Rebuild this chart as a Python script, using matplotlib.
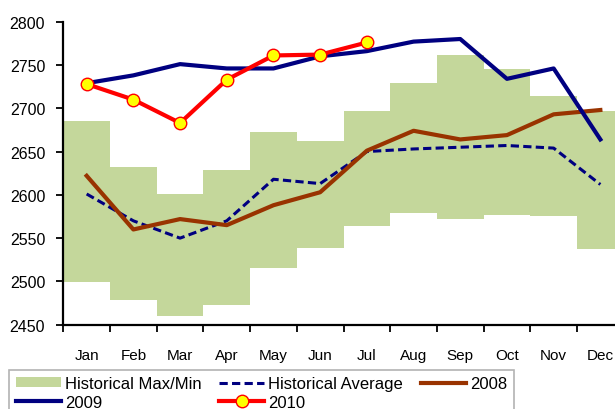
import numpy as np
import matplotlib
matplotlib.use("Agg")
import matplotlib.pyplot as plt
from matplotlib.patches import Patch
from matplotlib.lines import Line2D

# ==========================================
# DATA
# ==========================================

months = ["Jan", "Feb", "Mar", "Apr", "May", "Jun",
          "Jul", "Aug", "Sep", "Oct", "Nov", "Dec"]

hist_max = [2685, 2632, 2601, 2629, 2673, 2662,
            2697, 2729, 2761, 2745, 2714, 2697]
hist_min = [2499, 2478, 2460, 2473, 2516, 2539,
            2564, 2579, 2572, 2577, 2576, 2537]

hist_avg = [2601, 2570, 2550, 2570, 2618, 2613,
            2650, 2653, 2655, 2657, 2654, 2612]

y2008 = [2622, 2560, 2572, 2565, 2588, 2603,
         2651, 2674, 2664, 2669, 2693, 2698]

y2009 = [2729, 2738, 2751, 2746, 2746, 2760,
         2766, 2777, 2780, 2734, 2746, 2664]

y2010 = [2728, 2710, 2683, 2733, 2761, 2762, 2776]

# ==========================================
# STYLE
# ==========================================

plt.rcParams["font.family"] = ["Liberation Sans", "DejaVu Sans"]

green = "#C4D79B"
navy = "#000080"
brown = "#993300"
dash = (0, (2.7, 1.4))

x = np.arange(len(months))

fig = plt.figure(figsize=(6.15, 4.10), dpi=100)

# plot area runs past the right edge, like the original
ax = fig.add_axes([63.3 / 615, 1 - 325.7 / 410,
                   (623.7 - 63.3) / 615, (325.7 - 22.7) / 410])

# ==========================================
# HISTORICAL BAND
# ==========================================

band = np.array(hist_max) - np.array(hist_min)

ax.bar(x, band, bottom=hist_min, width=1.0,
       color=green, edgecolor="none", zorder=1)

# ==========================================
# LINES
# ==========================================

ax.plot(x, hist_avg, color=navy, linewidth=2.2,
        linestyle=dash, zorder=3)

ax.plot(x, y2008, color=brown, linewidth=3, zorder=4)

ax.plot(x, y2009, color=navy, linewidth=3, zorder=5)

ax.plot(x[:len(y2010)], y2010, color="red", linewidth=3,
        marker="o", markersize=9, markerfacecolor="yellow",
        markeredgecolor="red", markeredgewidth=1, zorder=6)

# ==========================================
# AXES
# ==========================================

ax.set_xlim(-0.5, 11.5)
ax.set_ylim(2450, 2800)
ax.set_yticks(np.arange(2450, 2801, 50))

ax.set_xticks(x)
ax.set_xticklabels(months, fontsize=11)
ax.set_xticks(np.arange(-0.5, 12, 1), minor=True)
ax.tick_params(axis="x", which="major", length=0, pad=17)
ax.tick_params(axis="x", which="minor", length=5, width=1.3,
               direction="out")
ax.tick_params(axis="y", length=5, width=1.3, direction="out",
               labelsize=11.5, pad=8)

for side in ["top", "right"]:
    ax.spines[side].set_visible(False)
for side in ["left", "bottom"]:
    ax.spines[side].set_linewidth(1.6)

# ==========================================
# LEGEND
# ==========================================

handles = [
    Patch(facecolor=green, edgecolor="none"),
    Line2D([], [], color=navy, linewidth=3),
    Line2D([], [], color=navy, linewidth=2.2, linestyle=dash),
    Line2D([], [], color="red", linewidth=3, marker="o", markersize=9,
           markerfacecolor="yellow", markeredgecolor="red"),
    Line2D([], [], color=brown, linewidth=3),
]
labels = ["Historical Max/Min", "2009", "Historical Average", "2010", "2008"]

leg = fig.legend(handles, labels, ncol=3, loc="upper left",
                 bbox_to_anchor=(9.3 / 615, 1 - 370.7 / 410),
                 borderaxespad=0, fontsize=12, frameon=True,
                 fancybox=False, edgecolor="#A0A0A0",
                 handlelength=2.7, handleheight=0.55,
                 handletextpad=0.25, columnspacing=1.05,
                 labelspacing=0.2, borderpad=0.4)
leg.get_frame().set_linewidth(1.2)

fig.savefig("out.png", dpi=100)
